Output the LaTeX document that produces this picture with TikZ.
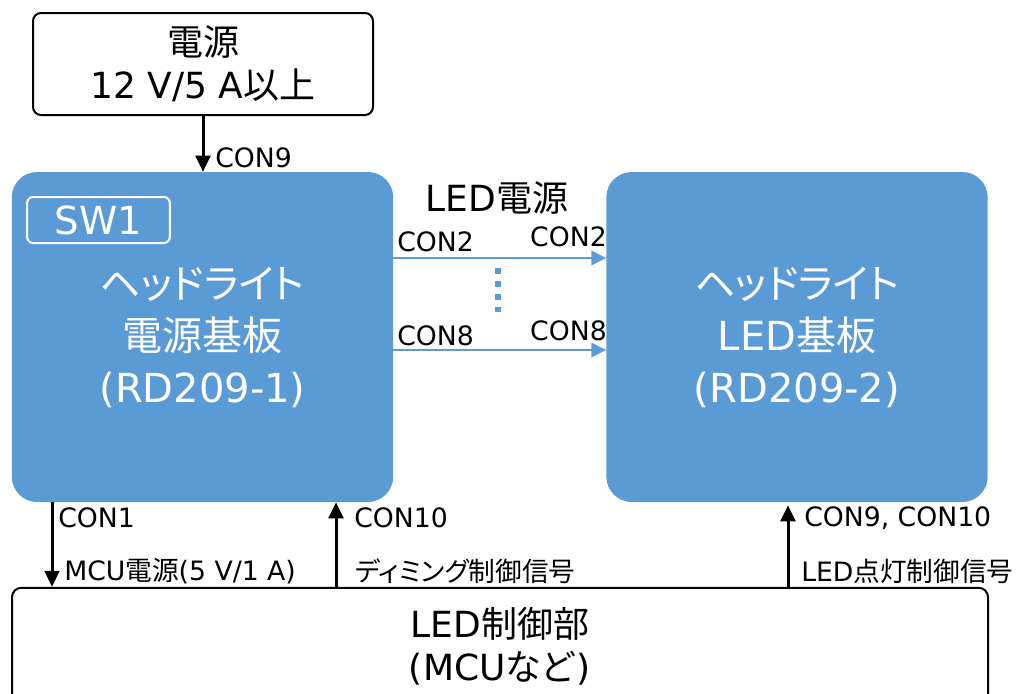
\documentclass[tikz,border=0pt]{standalone}
\usepackage{fontspec}
\setmainfont{DejaVu Sans}
\newfontfamily\jp[RawFeature={+palt}]{Noto Sans CJK JP}
\usetikzlibrary{arrows.meta,calc}
\definecolor{boxblue}{HTML}{5B9BD5}
\begin{document}
\begin{tikzpicture}[x=0.75pt,y=-0.75pt,
  blackbox/.style={draw=black, line width=1.5pt, rounded corners=6pt, fill=white, inner sep=0pt, align=center},
  bluebox/.style={fill=boxblue, rounded corners=19pt, inner sep=0pt, align=center, text=white,
    minimum width=286pt, minimum height=247.5pt, font=\fontsize{30}{39}\selectfont},
  swbox/.style={draw=white, line width=1.5pt, rounded corners=4.5pt, inner sep=0pt, text=white,
    minimum width=107pt, minimum height=34.5pt, font=\fontsize{29}{34}\selectfont},
  lbl/.style={inner sep=0pt, anchor=west, font=\fontsize{20}{24}\selectfont},
  lblr/.style={inner sep=0pt, anchor=east, font=\fontsize{20}{24}\selectfont},
  blk/.style={line width=2.25pt, -{Triangle[length=12pt,width=11pt]}},
  bluearrow/.style={draw=boxblue, line width=0.9pt, -{Triangle[length=11pt,width=11pt]}},
  dotline/.style={draw=boxblue, line width=4.5pt, dash pattern=on 4.5pt off 5.25pt}
]
\useasboundingbox (0,0) rectangle (1025,693);

% boxes
\node[blackbox, minimum width=255pt, minimum height=76.5pt, font=\fontsize{27}{32}\selectfont]
  (pw) at (203,64) {{\jp 電源}\\12 V/5 A{\jp 以上}};
\node[bluebox] (lb) at (202.5,337) {{\jp ヘッドライト}\\{\jp 電源基板}\\(RD209-1)};
\node[bluebox] (rb) at (797,337) {{\jp ヘッドライト}\\LED{\jp 基板}\\(RD209-2)};
\node[swbox] (sw) at (98.5,220) {SW1};
\node[blackbox, rounded corners=7pt, minimum width=732pt, minimum height=88pt, font=\fontsize{27}{32}\selectfont]
  (ctl) at (500,646.5) {LED{\jp 制御部}\\({MCU}{\jp など}\kern2pt)};

% coordinates
\coordinate (y2) at (0,258);
\coordinate (y8) at (0,350);
\coordinate (x1) at (52,0);
\coordinate (x10) at (336,0);
\coordinate (x9) at (788,0);
\coordinate (d1) at (498,268);
\coordinate (d2) at (498,312);

% top power arrow
\draw[blk] (pw.south) -- (pw.south |- lb.north);
\node[lbl] (lcon9) at (215,158) {CON9};

% LED power connections
\node[inner sep=0pt, font=\fontsize{27}{32}\selectfont] (ledp) at (497,198) {LED{\jp 電源}};
\draw[bluearrow] (lb.east |- y2) -- (rb.west |- y2);
\draw[bluearrow] (lb.east |- y8) -- (rb.west |- y8);
\draw[dotline] (d1) -- (d2);
\node[lbl] (lc2a) at (397,242) {CON2};
\node[lblr] (lc2b) at (607,237) {CON2};
\node[lbl] (lc8a) at (397,336) {CON8};
\node[lblr] (lc8b) at (607,331) {CON8};

% bottom arrows
\draw[blk] (lb.south -| x1) -- (ctl.north -| x1);
\draw[blk] (ctl.north -| x10) -- (lb.south -| x10);
\draw[blk, shorten >=2.25pt] (ctl.north -| x9) -- (rb.south -| x9);
\node[lbl] (lcon1) at (58,518) {CON1};
\node[lbl] (lcon10) at (354,518) {CON10};
\node[lbl] (lcon910) at (804,518) {CON9, CON10};
\node[lbl] (lmcu) at (64,571) {MCU{\jp 電源}(5 V/1 A)};
\node[lbl] (ldim) at (355,571) {\jp ディミング制御信号};
\node[lbl] (lled) at (801,571) {LED{\jp 点灯制御信号}};
\end{tikzpicture}
\end{document}
